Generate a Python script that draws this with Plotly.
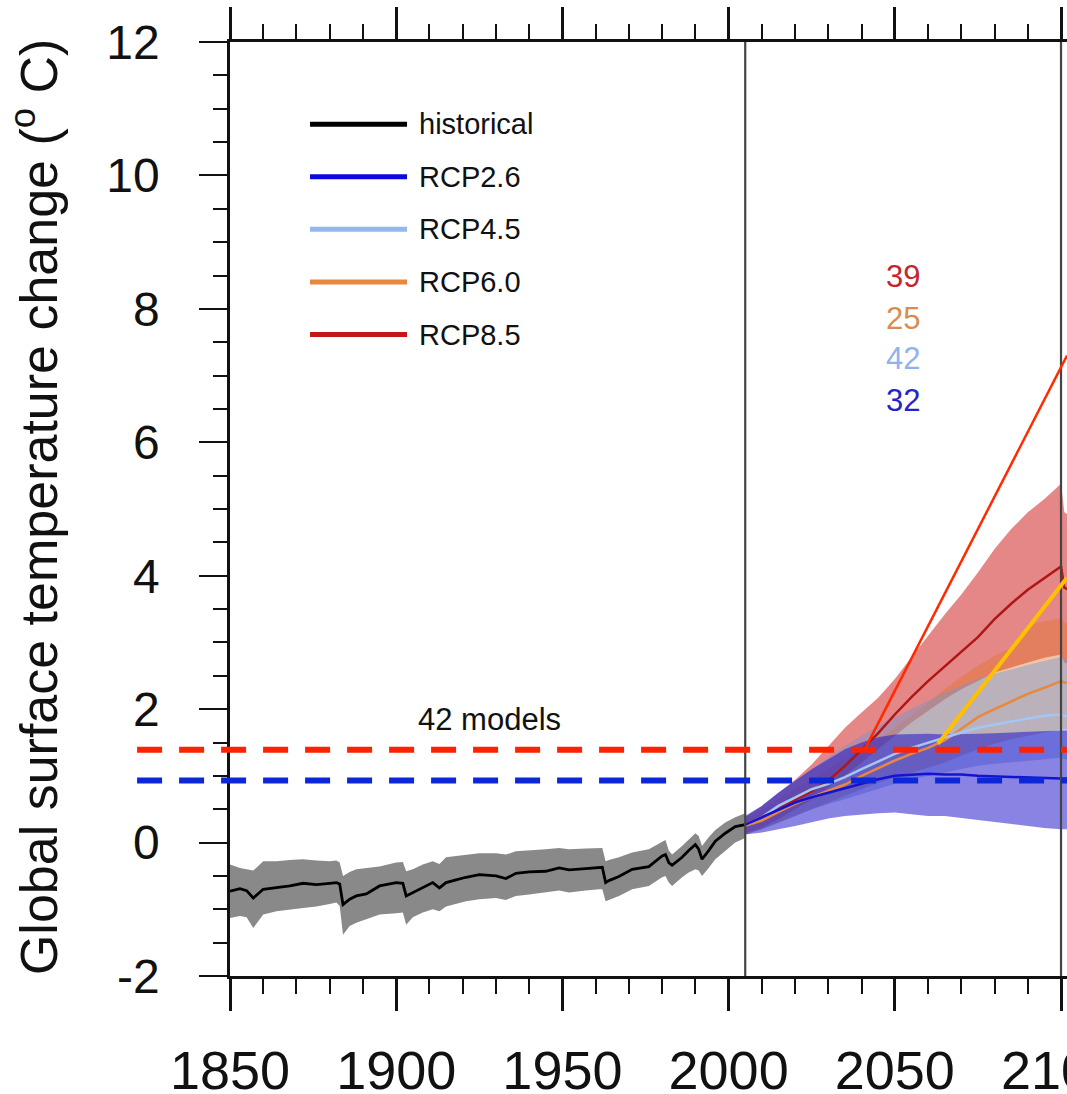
import plotly.graph_objects as go

# ---------------- data ----------------
hist_years = [1850,1853,1855,1857,1860,1864,1868,1872,1876,1880,1882,1883,1884,1886,1888,1891,1895,
              1900,1902,1903,1905,1908,1911,1913,1915,1918,1921,1925,1930,1933,1936,1940,1945,1949,
              1952,1957,1961,1962,1963,1964,1967,1971,1976,1980,1981,1982,1983,1986,1988,1990,1991,
              1992,1994,1996,1999,2002,2005]
hist_mean = [-0.73,-0.69,-0.72,-0.83,-0.70,-0.68,-0.65,-0.61,-0.63,-0.61,-0.60,-0.62,-0.93,-0.85,-0.80,
             -0.77,-0.65,-0.60,-0.61,-0.80,-0.75,-0.68,-0.60,-0.68,-0.60,-0.56,-0.52,-0.48,-0.50,-0.54,
             -0.46,-0.44,-0.43,-0.38,-0.41,-0.39,-0.38,-0.37,-0.60,-0.57,-0.51,-0.40,-0.36,-0.20,-0.18,
             -0.30,-0.34,-0.22,-0.12,-0.03,-0.10,-0.25,-0.12,0.02,0.14,0.24,0.27]
hist_hi = [-0.33,-0.38,-0.40,-0.42,-0.28,-0.28,-0.26,-0.25,-0.27,-0.28,-0.27,-0.30,-0.50,-0.44,-0.40,
           -0.38,-0.36,-0.30,-0.29,-0.43,-0.40,-0.33,-0.28,-0.32,-0.22,-0.20,-0.18,-0.16,-0.16,-0.18,
           -0.13,-0.12,-0.10,-0.08,-0.10,-0.09,-0.08,-0.08,-0.28,-0.26,-0.22,-0.15,-0.10,0.02,0.04,
           -0.12,-0.18,-0.05,0.05,0.14,0.10,-0.05,0.08,0.19,0.30,0.38,0.44]
hist_lo = [-1.13,-1.10,-1.12,-1.28,-1.08,-1.03,-1.00,-0.98,-0.96,-0.92,-0.90,-0.95,-1.38,-1.25,-1.20,
           -1.15,-1.08,-1.06,-1.05,-1.23,-1.12,-1.05,-1.00,-1.03,-0.96,-0.92,-0.88,-0.85,-0.83,-0.86,
           -0.80,-0.78,-0.75,-0.72,-0.75,-0.72,-0.70,-0.70,-0.88,-0.86,-0.80,-0.70,-0.65,-0.52,-0.50,
           -0.60,-0.65,-0.52,-0.45,-0.40,-0.42,-0.50,-0.38,-0.25,-0.12,0.00,0.07]

proj_years = [2005,2010,2015,2020,2025,2030,2035,2040,2045,2050,2055,2060,2065,2070,2075,2080,2085,
              2090,2095,2100,2101,2102]

rcp85_mean = [0.27,0.38,0.50,0.64,0.77,0.93,1.15,1.39,1.64,1.92,2.18,2.42,2.64,2.86,3.08,3.35,3.58,3.79,3.96,4.14,3.82,3.80]
rcp85_hi   = [0.38,0.55,0.74,0.94,1.17,1.45,1.72,1.95,2.17,2.45,2.78,3.10,3.42,3.72,4.05,4.40,4.70,4.95,5.15,5.38,4.95,4.92]
rcp85_lo   = [0.14,0.22,0.35,0.50,0.65,0.82,1.00,1.20,1.40,1.60,1.80,1.98,2.15,2.30,2.42,2.55,2.63,2.70,2.77,2.82,2.70,2.68]

rcp60_mean = [0.25,0.33,0.46,0.58,0.68,0.77,0.87,1.00,1.12,1.23,1.33,1.42,1.53,1.70,1.88,2.00,2.12,2.23,2.32,2.42,2.40,2.40]
rcp60_hi   = [0.36,0.48,0.65,0.80,0.95,1.10,1.25,1.40,1.55,1.72,1.90,2.10,2.30,2.48,2.65,2.80,2.92,3.25,3.32,3.36,3.30,3.30]
rcp60_lo   = [0.12,0.20,0.30,0.40,0.50,0.60,0.70,0.80,0.90,0.98,1.05,1.12,1.20,1.30,1.40,1.48,1.55,1.60,1.65,1.70,1.70,1.70]

rcp45_mean = [0.27,0.38,0.55,0.68,0.80,0.88,0.98,1.10,1.22,1.33,1.42,1.50,1.58,1.65,1.72,1.77,1.82,1.86,1.90,1.92,1.90,1.90]
rcp45_hi   = [0.40,0.55,0.75,0.92,1.10,1.28,1.45,1.60,1.75,1.88,2.00,2.12,2.25,2.35,2.45,2.53,2.60,2.66,2.72,2.78,2.75,2.75]
rcp45_lo   = [0.12,0.20,0.30,0.40,0.50,0.58,0.65,0.72,0.80,0.88,0.95,1.00,1.05,1.10,1.15,1.18,1.20,1.22,1.25,1.27,1.25,1.25]

rcp26_mean = [0.27,0.38,0.50,0.60,0.68,0.75,0.82,0.88,0.95,1.00,1.02,1.03,1.02,1.02,1.00,0.99,0.98,0.98,0.97,0.96,0.96,0.96]
rcp26_hi   = [0.40,0.55,0.75,0.92,1.10,1.25,1.40,1.50,1.58,1.62,1.63,1.63,1.62,1.62,1.63,1.64,1.65,1.67,1.68,1.68,1.68,1.68]
rcp26_lo   = [0.12,0.15,0.20,0.25,0.30,0.36,0.40,0.42,0.44,0.45,0.43,0.40,0.40,0.38,0.35,0.32,0.28,0.25,0.22,0.20,0.20,0.20]

x_tick_vals = [1850, 1900, 1950, 2000, 2050, 2100]
x_tick_text = ["1850", "1900", "1950", "2000", "2050", "2100"]
y_tick_vals = [-2, 0, 2, 4, 6, 8, 10, 12]
y_tick_text = ["-2", "0", "2", "4", "6", "8", "10", "12"]

legend_names = ["historical", "RCP2.6", "RCP4.5", "RCP6.0", "RCP8.5"]
legend_colors = ["#000000", "#0a0ae0", "#93b8ee", "#e8883e", "#c41818"]

model_counts = ["39", "25", "42", "32"]
count_colors = ["#c4262e", "#d98c52", "#8fb3ec", "#2424c8"]
count_year = 2052.5
count_values = [8.49, 7.86, 7.26, 6.63]

models_text = "42 models"
models_pos = (1928.2, 1.84)

threshold_red = 1.39
threshold_blue = 0.93
split_years = [2005, 2100]
red_arrow = [(2041.0, 1.40), (2101.8, 7.30)]
yellow_arrow = [(2063.0, 1.48), (2101.8, 3.97)]

FONT = "Liberation Sans, Arial, Helvetica, sans-serif"

fig = go.Figure()

def band(x, lo, hi, color):
    fig.add_trace(go.Scatter(x=list(x) + list(x)[::-1], y=list(hi) + list(lo)[::-1],
                             fill="toself", fillcolor=color, line=dict(width=0),
                             mode="lines", hoverinfo="skip", showlegend=False))

band(hist_years, hist_lo, hist_hi, "rgb(137,137,137)")
band(proj_years, rcp85_lo, rcp85_hi, "rgba(205,25,25,0.52)")
band(proj_years, rcp60_lo, rcp60_hi, "rgba(225,115,40,0.42)")
band(proj_years, rcp45_lo, rcp45_hi, "rgba(110,150,215,0.42)")
band(proj_years, rcp26_lo, rcp26_hi, "rgba(20,10,200,0.5)")

def line(x, y, color, w=2.5):
    fig.add_trace(go.Scatter(x=x, y=y, mode="lines", line=dict(color=color, width=w),
                             hoverinfo="skip", showlegend=False))

line(hist_years, hist_mean, "#000000", 2.8)
line(proj_years, rcp85_mean, "#b01616", 2.5)
line(proj_years, rcp60_mean, "#e8883e", 2.5)
line(proj_years, rcp45_mean, "#a3c6f4", 2.5)
line(proj_years, rcp26_mean, "#1414d0", 2.5)

shapes = []
for yr in split_years:
    shapes.append(dict(type="line", xref="x", yref="paper", x0=yr, x1=yr, y0=0, y1=1,
                       line=dict(color="#444444", width=2.2)))
shapes.append(dict(type="line", xref="paper", yref="y", x0=-0.111, x1=1, y0=threshold_red, y1=threshold_red,
                   line=dict(color="#ff2200", width=6, dash="25px,17px")))
shapes.append(dict(type="line", xref="paper", yref="y", x0=-0.111, x1=1, y0=threshold_blue, y1=threshold_blue,
                   line=dict(color="#0a28d8", width=6, dash="25px,17px")))
shapes.append(dict(type="line", xref="x", yref="y", x0=red_arrow[0][0], y0=red_arrow[0][1],
                   x1=red_arrow[1][0], y1=red_arrow[1][1], line=dict(color="#ff2a00", width=2.5)))
shapes.append(dict(type="line", xref="x", yref="y", x0=yellow_arrow[0][0], y0=yellow_arrow[0][1],
                   x1=yellow_arrow[1][0], y1=yellow_arrow[1][1], line=dict(color="#ffc000", width=4)))

annotations = []
# custom legend
for i, (name, col) in enumerate(zip(legend_names, legend_colors)):
    yp = 0.912 - i * 0.0563
    shapes.append(dict(type="line", xref="paper", yref="paper", x0=0.0956, x1=0.2115, y0=yp, y1=yp,
                       line=dict(color=col, width=5)))
    annotations.append(dict(xref="paper", yref="paper", x=0.224, y=yp, text=name, showarrow=False,
                            xanchor="left", yanchor="middle", font=dict(size=29, color="#111111", family=FONT)))

for txt, col, v in zip(model_counts, count_colors, count_values):
    annotations.append(dict(x=count_year, y=v, text=txt, showarrow=False, xanchor="center", yanchor="middle",
                            font=dict(size=31, color=col, family=FONT)))

annotations.append(dict(x=models_pos[0], y=models_pos[1], text=models_text, showarrow=False,
                        xanchor="center", yanchor="middle", font=dict(size=31, color="#111111", family=FONT)))

annotations.append(dict(xref="paper", yref="paper", x=-0.233, y=0.502,
                        text="Global surface temperature change (<sup>o</sup> C)", textangle=-90,
                        showarrow=False, xanchor="center", yanchor="middle",
                        font=dict(size=52, color="#111111", family=FONT)))

fig.update_layout(
    width=1067, height=1094,
    margin=dict(l=230, r=0, t=42, b=118, pad=0, autoexpand=False),
    paper_bgcolor="white", plot_bgcolor="white",
    shapes=shapes, annotations=annotations,
    showlegend=False,
    font=dict(family=FONT, color="#111111"),
)
fig.update_xaxes(range=[1850, 2101.8], tickmode="array", tickvals=x_tick_vals, ticktext=x_tick_text,
                 automargin=False, ticklabeloverflow="allow",
                 showgrid=False, zeroline=False, showline=True, linecolor="#111111", linewidth=2.5,
                 mirror="allticks", ticks="outside", ticklen=32, tickwidth=2.5, tickcolor="#111111",
                 tickfont=dict(size=54, family=FONT, color="#111111"), ticklabelstandoff=13,
                 minor=dict(tickmode="linear", tick0=1850, dtick=10, ticks="outside", ticklen=15,
                            tickwidth=1.5, tickcolor="#111111", showgrid=False))
fig.update_yaxes(range=[-2, 12], tickmode="array", tickvals=y_tick_vals, ticktext=y_tick_text,
                 automargin=False, ticklabeloverflow="allow",
                 showgrid=False, zeroline=False, showline=True, linecolor="#111111", linewidth=2.5,
                 mirror=False, ticks="outside", ticklen=28, tickwidth=2, tickcolor="#111111",
                 tickfont=dict(size=48, family=FONT, color="#111111"), ticklabelstandoff=30,
                 minor=dict(tickmode="linear", tick0=-2, dtick=0.5, ticks="outside", ticklen=14,
                            tickwidth=1.5, tickcolor="#111111", showgrid=False))

fig.write_html("out.html", config={"displayModeBar": False},
               post_script="document.body.style.margin='0';document.body.style.overflow='hidden';")
